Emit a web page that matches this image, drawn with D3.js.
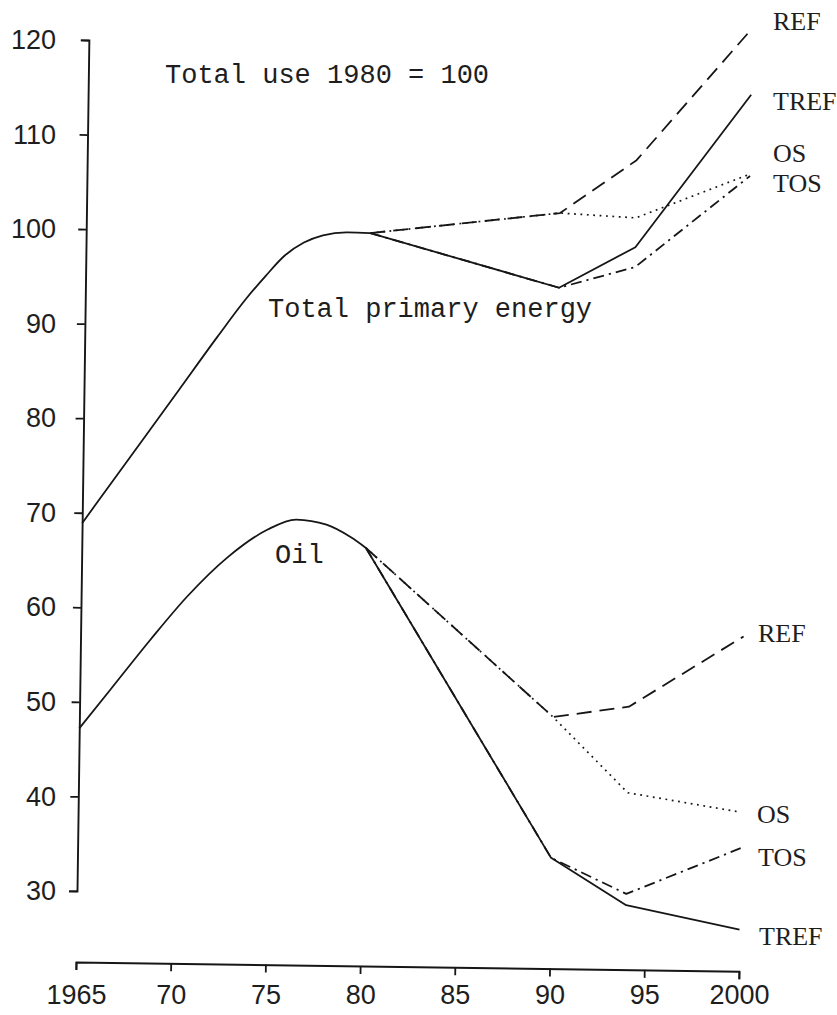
<!DOCTYPE html>
<html>
<head>
<meta charset="utf-8">
<script src="https://cdn.jsdelivr.net/npm/d3@7"></script>
<style>
  html, body { margin: 0; padding: 0; background: #ffffff; }
  svg { display: block; }
</style>
</head>
<body>
<svg id="chart" width="837" height="1015"></svg>
<script>
// ---------------- DATA (index 1980 total = 100) ----------------
const totalHistYears  = [1965, 1967.5, 1970, 1972, 1973.5, 1974.5, 1975.5, 1976.5, 1977.5, 1978.8, 1980];
const totalHistValues = [68.9, 76.0, 83.1, 88.8, 92.9, 95.3, 97.5, 98.9, 99.7, 100.05, 100.0];

const oilHistYears  = [1965, 1966.6, 1968.7, 1970.6, 1972.7, 1974.8, 1976.3, 1977.9, 1979.2, 1980];
const oilHistValues = [47.2, 51.3, 56.7, 61.3, 65.5, 68.5, 69.6, 69.1, 67.8, 66.7];

const scenarioYears = [1980, 1990, 1994, 2000];
const scenarioNames = ["REF", "TREF", "OS", "TOS"];

const totalREF  = [100, 102.4, 108.1, 122.2];
const totalTREF = [100, 94.5, 98.9, 115.2];
const totalOS   = [100, 102.4, 102.0, 106.8];
const totalTOS  = [100, 94.5, 96.8, 106.6];

const oilREF  = [66.7, 49.1, 50.3, 57.9];
const oilTREF = [66.7, 34.2, 29.3, 26.9];
const oilOS   = [66.7, 49.1, 41.2, 39.3];
const oilTOS  = [66.7, 34.2, 30.5, 35.5];

const xTicks      = [1965, 1970, 1975, 1980, 1985, 1990, 1995, 2000];
const xTickLabels = ["1965", "70", "75", "80", "85", "90", "95", "2000"];
const yTicks      = [30, 40, 50, 60, 70, 80, 90, 100, 110, 120];
const yTickLabels = ["30", "40", "50", "60", "70", "80", "90", "100", "110", "120"];

const annotationTexts = ["Total use 1980 = 100", "Total primary energy", "Oil"];

// ---------------- LAYOUT ----------------
const svg = d3.select("#chart");
const INK = "#161616";
const x = d3.scaleLinear().domain([1965, 2000]).range([76, 739]);
const y = d3.scaleLinear().domain([30, 120]).range([891, 40]);
const axisX0 = 76, axisY0 = 962;

// the scanned drawing is slightly rotated; axes and curves share that rotation
const plot = svg.append("g").attr("transform", "rotate(0.8, 80, 962)");

// axes lines + ticks
const yAxis = plot.append("g")
  .attr("transform", `translate(${axisX0},0)`)
  .call(d3.axisLeft(y).tickValues(yTicks).tickSize(8).tickSizeOuter(8).tickFormat(""));
const xAxis = plot.append("g")
  .attr("transform", `translate(0,${axisY0})`)
  .call(d3.axisBottom(x).tickValues(xTicks).tickSize(8).tickSizeOuter(8).tickFormat(""));
[yAxis, xAxis].forEach(a => {
  a.selectAll("path.domain").attr("stroke", INK).attr("stroke-width", 1.9);
  a.selectAll(".tick line").attr("stroke", INK).attr("stroke-width", 1.8);
});

// lines
const smooth = d3.line().x(d => x(d[0])).y(d => y(d[1])).curve(d3.curveMonotoneX);
const straight = d3.line().x(d => x(d[0])).y(d => y(d[1]));

const styles = {
  REF:  { dash: "15,8",        width: 1.8 },
  OS:   { dash: "1.8,4.6",     width: 1.7 },
  TOS:  { dash: "11,5,2.2,5",  width: 1.8 },
  TREF: { dash: null,          width: 1.8 }
};
const totalSeries = { REF: totalREF, TREF: totalTREF, OS: totalOS, TOS: totalTOS };
const oilSeries   = { REF: oilREF, TREF: oilTREF, OS: oilOS, TOS: oilTOS };
const drawOrder = ["OS", "REF", "TOS", "TREF"];

function drawScenario(seriesMap) {
  drawOrder.forEach(name => {
    const pts = scenarioYears.map((yr, i) => [yr, seriesMap[name][i]]);
    plot.append("path")
      .attr("d", straight(pts))
      .attr("fill", "none")
      .attr("stroke", INK)
      .attr("stroke-width", styles[name].width)
      .attr("stroke-dasharray", styles[name].dash)
      .attr("stroke-linejoin", "round");
  });
}
drawScenario(totalSeries);
drawScenario(oilSeries);

plot.append("path")
  .attr("d", smooth(totalHistYears.map((yr, i) => [yr, totalHistValues[i]])))
  .attr("fill", "none").attr("stroke", INK).attr("stroke-width", 1.8);
plot.append("path")
  .attr("d", smooth(oilHistYears.map((yr, i) => [yr, oilHistValues[i]])))
  .attr("fill", "none").attr("stroke", INK).attr("stroke-width", 1.8);

// ---------------- TEXT (typed labels are not rotated) ----------------
const labels = svg.append("g");
const yLab = labels.append("g")
  .attr("transform", `translate(${axisX0},0)`)
  .call(d3.axisLeft(y).tickValues(yTicks).tickSize(0).tickPadding(20)
        .tickFormat((d, i) => yTickLabels[i]));
const xLab = labels.append("g")
  .attr("transform", `translate(0,${axisY0})`)
  .call(d3.axisBottom(x).tickValues(xTicks).tickSize(0).tickPadding(23)
        .tickFormat((d, i) => xTickLabels[i]));
[yLab, xLab].forEach(a => {
  a.select("path.domain").remove();
  a.selectAll("text")
    .attr("font-family", "'Liberation Sans', Arial, sans-serif")
    .attr("font-size", 27)
    .attr("fill", "#1e1e1e");
});

const mono = "'Liberation Mono', 'Courier New', monospace";
const serif = "'Liberation Serif', 'Times New Roman', serif";

const annots = [
  { t: annotationTexts[0], x: 165, y: 83 },
  { t: annotationTexts[1], x: 268, y: 317 },
  { t: annotationTexts[2], x: 275, y: 563 }
];
annots.forEach(a => {
  labels.append("text").attr("x", a.x).attr("y", a.y).text(a.t)
    .attr("font-family", mono).attr("font-size", 27).attr("fill", "#1e1e1e");
});

const endLabels = [
  { t: scenarioNames[0], x: 773, y: 30 },
  { t: scenarioNames[1], x: 773, y: 110 },
  { t: scenarioNames[2], x: 773, y: 162 },
  { t: scenarioNames[3], x: 773, y: 192 },
  { t: scenarioNames[0], x: 758, y: 642 },
  { t: scenarioNames[2], x: 757, y: 823 },
  { t: scenarioNames[3], x: 758, y: 866 },
  { t: scenarioNames[1], x: 759, y: 945 }
];
endLabels.forEach(a => {
  labels.append("text").attr("x", a.x).attr("y", a.y).text(a.t)
    .attr("font-family", serif).attr("font-size", 26).attr("fill", "#1e1e1e");
});
</script>
</body>
</html>
